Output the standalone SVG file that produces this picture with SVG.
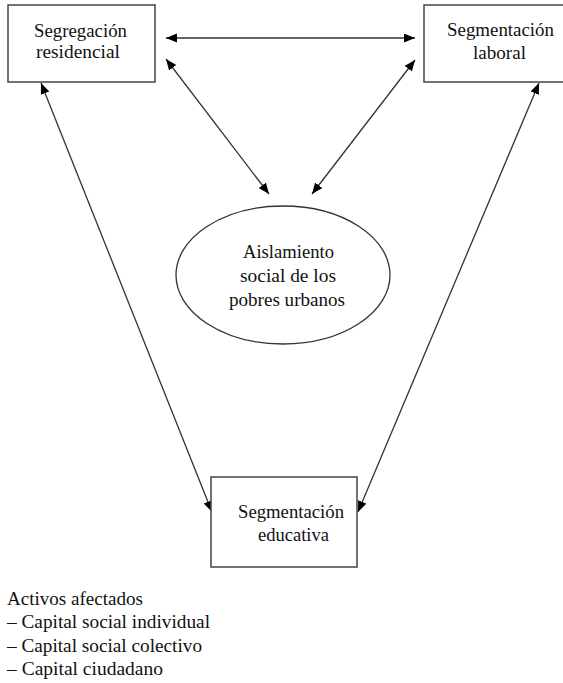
<svg xmlns="http://www.w3.org/2000/svg" width="563" height="683" viewBox="0 0 563 683">
<defs>
<style>
.box{fill:#fff;stroke:#444;stroke-width:1.5}
.conn{stroke:#333;stroke-width:1.3;fill:none;marker-start:url(#ah);marker-end:url(#ah)}
text{font-family:'Liberation Serif','DejaVu Serif',serif;font-size:18.5px;fill:#111}
</style>
<marker id="ah" markerUnits="userSpaceOnUse" markerWidth="12" markerHeight="10" refX="11" refY="4.5" orient="auto-start-reverse" viewBox="0 0 12 10">
<path d="M0,0 L11,4.5 L0,9 z" fill="#000"/>
</marker>
</defs>
<rect width="563" height="683" fill="#fff"/>
<g id="connectors">
<line class="conn" x1="166" y1="38" x2="415" y2="38"/>
<line class="conn" x1="166" y1="59" x2="269" y2="194"/>
<line class="conn" x1="415" y1="60" x2="312" y2="194"/>
<line class="conn" x1="41" y1="83" x2="212" y2="512"/>
<line class="conn" x1="539" y1="83" x2="358" y2="512"/>
</g>
<g id="segregacion" font-family="Liberation Serif, serif">
<rect class="box" x="8" y="5" width="147" height="77"/>
<text x="34" y="37" textLength="93" lengthAdjust="spacingAndGlyphs">Segregación</text>
<text x="36" y="58" textLength="84" lengthAdjust="spacingAndGlyphs">residencial</text>
</g>
<g id="laboral" font-family="Liberation Serif, serif">
<rect class="box" x="424" y="5" width="145" height="77"/>
<text x="447" y="36" textLength="107" lengthAdjust="spacingAndGlyphs">Segmentación</text>
<text x="473" y="59" textLength="53" lengthAdjust="spacingAndGlyphs">laboral</text>
</g>
<g id="aislamiento" font-family="Liberation Serif, serif">
<ellipse cx="283" cy="275" rx="107" ry="69" fill="#fff" stroke="#333" stroke-width="1.3"/>
<text x="243" y="258" textLength="91" lengthAdjust="spacingAndGlyphs">Aislamiento</text>
<text x="240" y="282" textLength="96" lengthAdjust="spacingAndGlyphs">social de los</text>
<text x="229" y="306" textLength="116" lengthAdjust="spacingAndGlyphs">pobres urbanos</text>
</g>
<g id="educativa" font-family="Liberation Serif, serif">
<rect class="box" x="211" y="477" width="146" height="90"/>
<text x="238" y="518" textLength="106" lengthAdjust="spacingAndGlyphs">Segmentación</text>
<text x="258" y="541" textLength="71" lengthAdjust="spacingAndGlyphs">educativa</text>
</g>
<g id="activos" font-family="Liberation Serif, serif">
<text x="7" y="605" textLength="136" lengthAdjust="spacingAndGlyphs">Activos afectados</text>
<text x="7" y="628" textLength="203" lengthAdjust="spacingAndGlyphs">– Capital social individual</text>
<text x="7" y="652" textLength="195" lengthAdjust="spacingAndGlyphs">– Capital social colectivo</text>
<text x="7" y="675" textLength="156" lengthAdjust="spacingAndGlyphs">– Capital ciudadano</text>
</g>
</svg>
